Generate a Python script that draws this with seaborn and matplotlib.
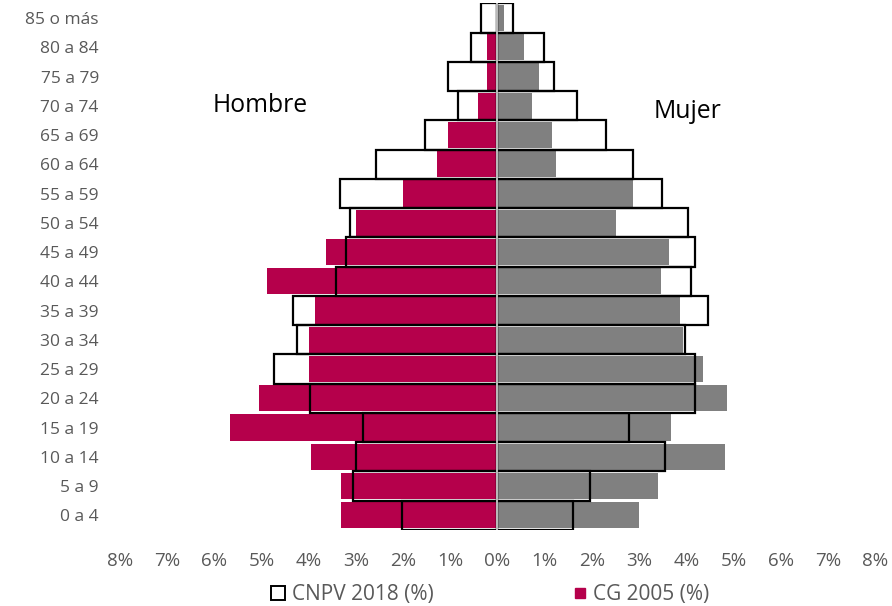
import matplotlib
matplotlib.use('Agg')
import matplotlib.pyplot as plt
from matplotlib.lines import Line2D
import seaborn as sns

# age groups, youngest first
ages = ["0 a 4", "5 a 9", "10 a 14", "15 a 19", "20 a 24", "25 a 29", "30 a 34",
        "35 a 39", "40 a 44", "45 a 49", "50 a 54", "55 a 59", "60 a 64",
        "65 a 69", "70 a 74", "75 a 79", "80 a 84", "85 o más"]

# percentages
hombres_2018 = [2.01, 3.06, 2.99, 2.85, 3.96, 4.74, 4.24, 4.32, 3.41, 3.20,
                3.13, 3.34, 2.57, 1.53, 0.84, 1.04, 0.56, 0.34]
hombres_2005 = [3.31, 3.31, 3.95, 5.66, 5.04, 4.00, 4.00, 3.86, 4.89, 3.62,
                2.99, 2.00, 1.28, 1.04, 0.42, 0.23, 0.23, 0.03]
mujeres_2018 = [1.60, 1.96, 3.55, 2.79, 4.18, 4.18, 3.97, 4.46, 4.10, 4.18,
                4.04, 3.49, 2.87, 2.30, 1.68, 1.19, 0.98, 0.34]
mujeres_2005 = [3.00, 3.41, 4.82, 3.68, 4.86, 4.36, 3.93, 3.86, 3.46, 3.64,
                2.51, 2.87, 1.24, 1.15, 0.74, 0.88, 0.56, 0.15]

xticks = list(range(-8, 9))

MAGENTA = '#b5004b'
GRIS = '#808080'

sns.set_style('white')
plt.rcParams['font.family'] = ['Open Sans', 'DejaVu Sans']

fig = plt.figure(figsize=(8.92, 6.06), dpi=100)
ax = fig.add_axes([0.1342, 0.1256, 0.8468, 0.8688])

order = ages[::-1]
neg = lambda vals: [-v for v in vals]

# 2018: white boxes underneath
for vals in (neg(hombres_2018), mujeres_2018):
    sns.barplot(x=vals, y=ages, order=order, orient='h', color='white',
                saturation=1, width=1.0, linewidth=0, ax=ax)

# 2005: filled bars
sns.barplot(x=neg(hombres_2005), y=ages, order=order, orient='h', color=MAGENTA,
            saturation=1, width=0.9, linewidth=0, ax=ax)
sns.barplot(x=mujeres_2005, y=ages, order=order, orient='h', color=GRIS,
            saturation=1, width=0.9, linewidth=0, ax=ax)

# 2018 outline on top
for vals in (neg(hombres_2018), mujeres_2018):
    sns.barplot(x=vals, y=ages, order=order, orient='h', fill=False, color='black',
                width=1.0, linewidth=1.6, ax=ax)

ax.axvline(0, color='#bfbfbf', lw=1.4, zorder=10)

ax.set_xlim(-8, 8)
ax.set_xticks(xticks)
ax.set_xticklabels([f"{abs(t)}%" for t in xticks])
ax.set_xlabel('')
ax.set_ylabel('')
ax.tick_params(axis='x', length=0, pad=16, labelsize=13.5, labelcolor='#595959')
ax.tick_params(axis='y', length=0, pad=15, labelsize=12.5, labelcolor='#595959')
for s in ax.spines.values():
    s.set_visible(False)

ax.text(-5.02, 3.2, 'Hombre', ha='center', va='baseline', fontsize=17.8, color='black')
ax.text(4.02, 3.43, 'Mujer', ha='center', va='baseline', fontsize=17.8, color='black')

handles = [
    Line2D([], [], marker='s', linestyle='none', markersize=10.5,
           markerfacecolor='white', markeredgecolor='black', markeredgewidth=1.4),
    Line2D([], [], marker='s', linestyle='none', markersize=6.5,
           markerfacecolor=MAGENTA, markeredgecolor=MAGENTA),
]
fig.legend(handles, ['CNPV 2018 (%)', 'CG 2005 (%)'], loc='center',
           bbox_to_anchor=(0.549, 0.019), ncol=2, frameon=False,
           fontsize=15, labelcolor='#595959', handlelength=0.8,
           handletextpad=0.25, columnspacing=6.6)

fig.savefig('out.png', dpi=100)
